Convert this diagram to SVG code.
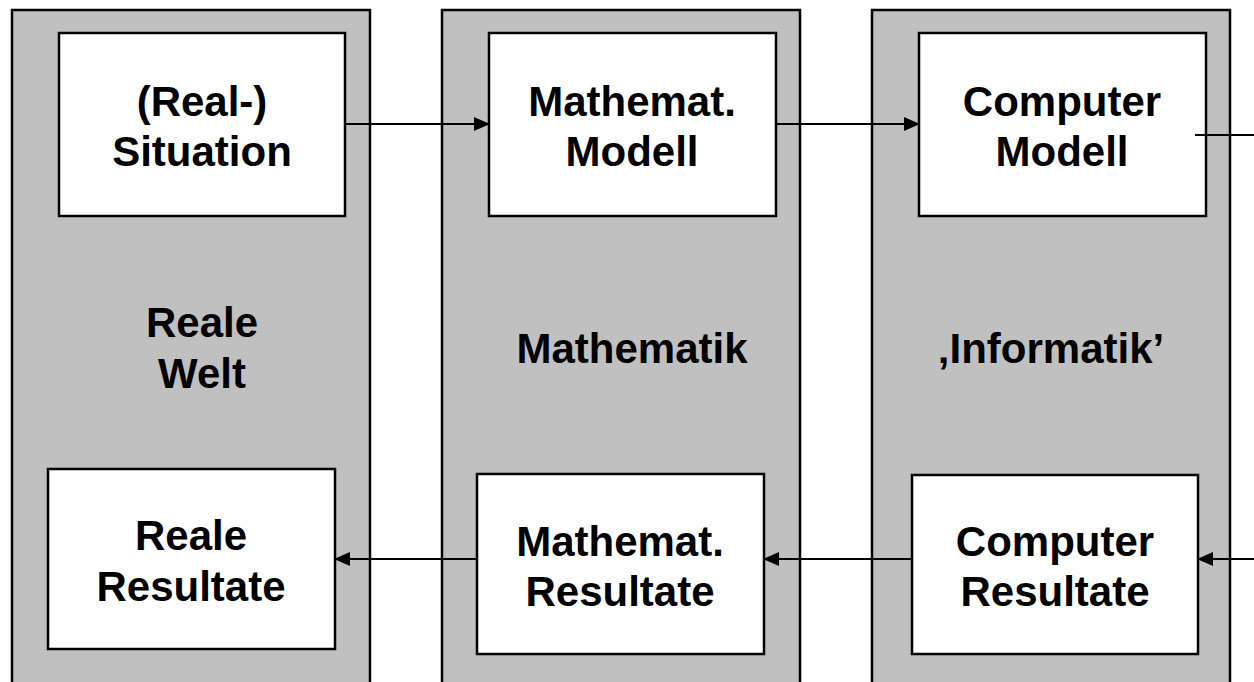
<svg xmlns="http://www.w3.org/2000/svg" width="1254" height="682" viewBox="0 0 1254 682">
<style>
.panel{fill:#c0c0c0;stroke:#000;stroke-width:2.5}
.box{fill:#fff;stroke:#000;stroke-width:2.5}
.t{font-family:"Liberation Sans",Arial,sans-serif;font-weight:bold;font-size:42px;fill:#000;text-anchor:middle}
.c{stroke:#000;stroke-width:2;fill:none}
</style>
<defs>
<marker id="ah" markerWidth="16" markerHeight="16" refX="15" refY="8" orient="auto" markerUnits="userSpaceOnUse">
<path d="M0,1 L16,8 L0,15 Z" fill="#000"/>
</marker>
</defs>
<rect width="1254" height="682" fill="#fff"/>
<g id="panel-real">
<rect class="panel" x="12" y="10" width="358" height="690"/>
<text class="t" x="202" y="337">Reale</text>
<text class="t" x="202" y="388">Welt</text>
</g>
<g id="panel-math">
<rect class="panel" x="442" y="10" width="358" height="690"/>
<text class="t" x="632" y="363">Mathematik</text>
</g>
<g id="panel-info">
<rect class="panel" x="872" y="10" width="358" height="690"/>
<text class="t" x="1051" y="363">‚Informatik’</text>
</g>
<g id="real-situation">
<rect class="box" x="59" y="33" width="286" height="183"/>
<text class="t" x="202" y="116">(Real-)</text>
<text class="t" x="202" y="166">Situation</text>
</g>
<g id="math-modell">
<rect class="box" x="489" y="33" width="287" height="183"/>
<text class="t" x="632" y="116">Mathemat.</text>
<text class="t" x="632" y="166">Modell</text>
</g>
<g id="computer-modell">
<rect class="box" x="919" y="33" width="287" height="183"/>
<text class="t" x="1062" y="116">Computer</text>
<text class="t" x="1062" y="166">Modell</text>
</g>
<g id="reale-resultate">
<rect class="box" x="48" y="469" width="287" height="180"/>
<text class="t" x="191" y="550">Reale</text>
<text class="t" x="191" y="601">Resultate</text>
</g>
<g id="math-resultate">
<rect class="box" x="477" y="474" width="287" height="180"/>
<text class="t" x="620" y="556">Mathemat.</text>
<text class="t" x="620" y="606">Resultate</text>
</g>
<g id="computer-resultate">
<rect class="box" x="912" y="475" width="286" height="179"/>
<text class="t" x="1055" y="556">Computer</text>
<text class="t" x="1055" y="606">Resultate</text>
</g>
<g id="connectors">
<line class="c" x1="345" y1="124" x2="489" y2="124" marker-end="url(#ah)"/>
<line class="c" x1="776" y1="124" x2="919" y2="124" marker-end="url(#ah)"/>
<line class="c" x1="1195" y1="135" x2="1254" y2="135"/>
<line class="c" x1="1254" y1="559" x2="1198" y2="559" marker-end="url(#ah)"/>
<line class="c" x1="912" y1="559" x2="764" y2="559" marker-end="url(#ah)"/>
<line class="c" x1="477" y1="559" x2="335" y2="559" marker-end="url(#ah)"/>
</g>
</svg>
